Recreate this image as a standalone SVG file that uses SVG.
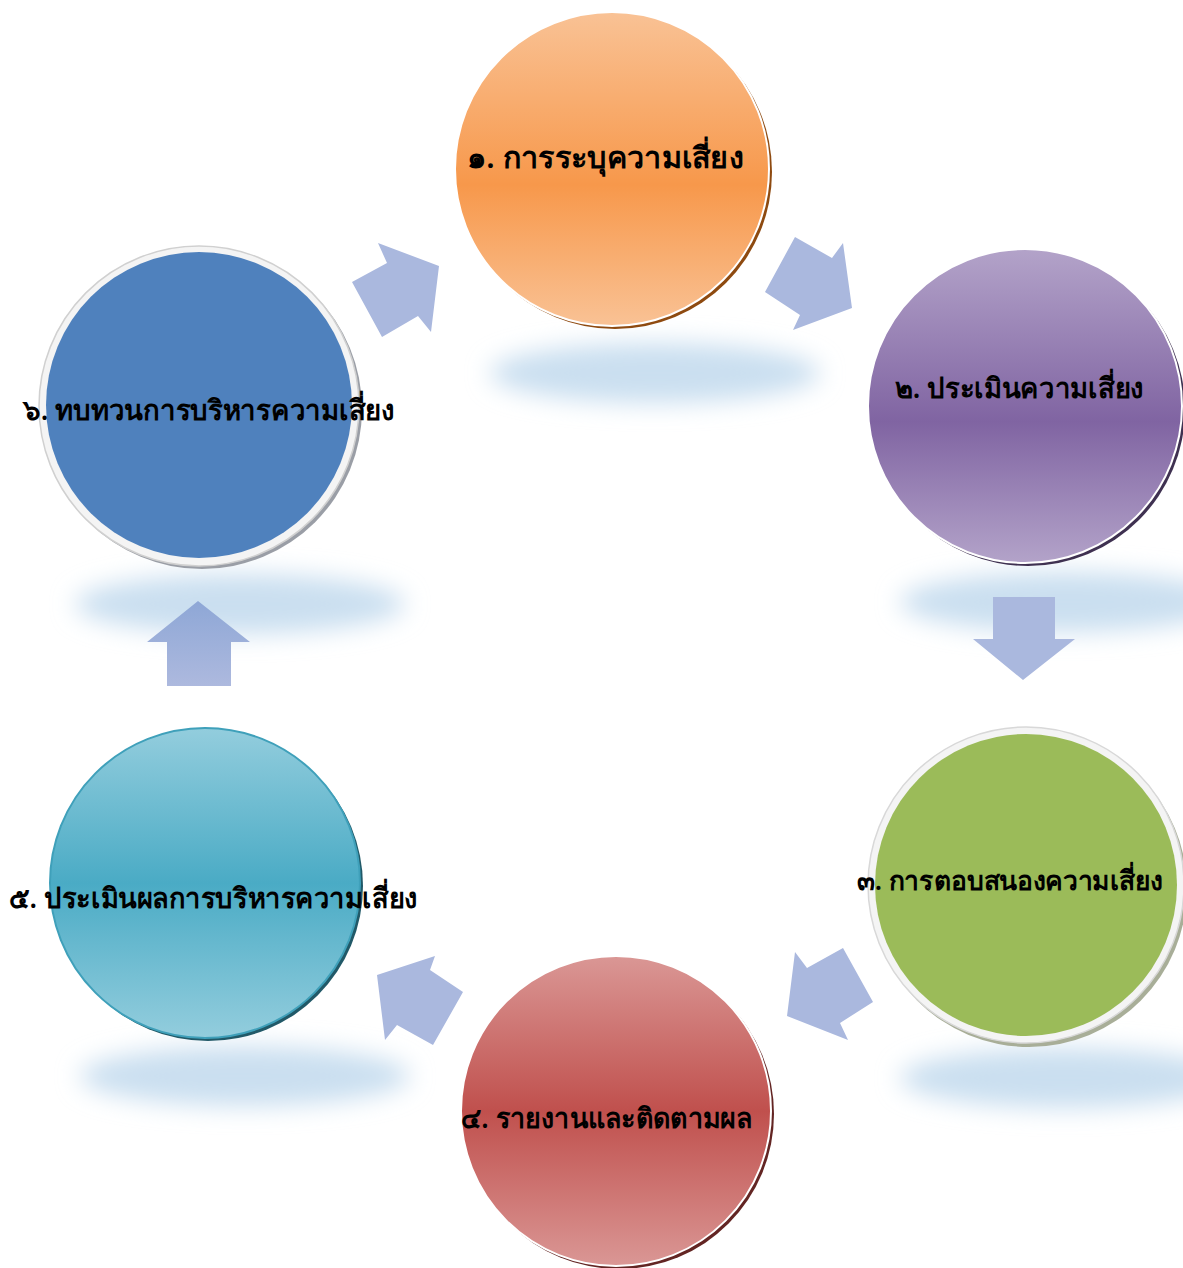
<svg xmlns="http://www.w3.org/2000/svg" width="1183" height="1268" viewBox="0 0 1183 1268">
<style>
.lbl{font-family:"Noto Sans","DejaVu Sans","Liberation Sans",sans-serif;font-size:28px;font-weight:600;fill:#000}
.arr{fill:#aab8de}
.shadow{fill:#cadff0;filter:url(#blur)}
</style>
<defs>
<filter id="blur" x="-30%" y="-100%" width="160%" height="300%"><feGaussianBlur stdDeviation="12"/></filter>
<linearGradient id="gOrange" x1="0" y1="0" x2="0" y2="1"><stop offset="0" stop-color="#f9c295"/><stop offset="0.55" stop-color="#f7984b"/><stop offset="1" stop-color="#f9c295"/></linearGradient>
<linearGradient id="gPurple" x1="0" y1="0" x2="0" y2="1"><stop offset="0" stop-color="#b3a3c9"/><stop offset="0.55" stop-color="#8064a2"/><stop offset="1" stop-color="#b3a3c9"/></linearGradient>
<linearGradient id="gRed" x1="0" y1="0" x2="0" y2="1"><stop offset="0" stop-color="#da9795"/><stop offset="0.5" stop-color="#c0504d"/><stop offset="1" stop-color="#da9795"/></linearGradient>
<linearGradient id="gTeal" x1="0" y1="0" x2="0" y2="1"><stop offset="0" stop-color="#93cddd"/><stop offset="0.5" stop-color="#4aabc5"/><stop offset="1" stop-color="#93cddd"/></linearGradient>
<linearGradient id="gUp" x1="0" y1="0" x2="0" y2="1"><stop offset="0" stop-color="#8ea7d6"/><stop offset="1" stop-color="#adb9de"/></linearGradient>
</defs>

<g id="shadows">
<ellipse class="shadow" cx="655" cy="373" rx="165" ry="30"/>
<ellipse class="shadow" cx="240" cy="604" rx="165" ry="30"/>
<ellipse class="shadow" cx="1065" cy="602" rx="165" ry="30"/>
<ellipse class="shadow" cx="1065" cy="1078" rx="165" ry="30"/>
<ellipse class="shadow" cx="245" cy="1076" rx="165" ry="30"/>
</g>

<g id="connectors">
<polygon class="arr" points="352,282 387,263 378,243 439,266 431,332 418,316 382,337"/>
<polygon class="arr" points="795,237 832,258 843,243 852,308 793,330 800,315 765,292"/>
<polygon class="arr" points="993,597 1055,597 1055,639 1075,639 1023,680 973,639 993,639"/>
<polygon class="arr" points="795,952 807,968 843,948 873,1002 840,1023 848,1040 787,1016"/>
<polygon class="arr" points="377,975 435,956 430,970 463,992 433,1045 397,1025 385,1040"/>
<polygon fill="url(#gUp)" points="198,601 250,642 231,642 231,686 167,686 167,642 147,642"/>
</g>

<g id="node1">
<circle cx="615" cy="172" r="157" fill="#8e4a10"/>
<circle cx="612" cy="169" r="157" fill="url(#gOrange)" stroke="#fff" stroke-width="2"/>
<text class="lbl" x="467" y="168" style="font-size:30px" textLength="277" lengthAdjust="spacingAndGlyphs">๑. การระบุความเสี่ยง</text>
</g>

<g id="node2">
<circle cx="1028" cy="409" r="157" fill="#3f3151"/>
<circle cx="1025" cy="406" r="157" fill="url(#gPurple)" stroke="#fff" stroke-width="2"/>
<text class="lbl" x="895" y="398" textLength="249" lengthAdjust="spacingAndGlyphs">๒. ประเมินความเสี่ยง</text>
</g>

<g id="node3">
<circle cx="1029" cy="889" r="158" fill="#a8ae98"/>
<circle cx="1026" cy="885" r="158" fill="#f4f4f4" stroke="#d8d8d8" stroke-width="1.5"/>
<circle cx="1026" cy="885" r="151" fill="#9bbb59"/>
<text class="lbl" x="857" y="890" style="font-size:27px" textLength="306" lengthAdjust="spacingAndGlyphs">๓. การตอบสนองความเสี่ยง</text>
</g>

<g id="node4">
<circle cx="619" cy="1114" r="155" fill="#632523"/>
<circle cx="616" cy="1111" r="155" fill="url(#gRed)" stroke="#fff" stroke-width="2"/>
<text class="lbl" x="461" y="1128" textLength="291" lengthAdjust="spacingAndGlyphs">๔. รายงานและติดตามผล</text>
</g>

<g id="node5">
<circle cx="208" cy="886" r="155" fill="#215968"/>
<circle cx="205" cy="883" r="155" fill="url(#gTeal)" stroke="#3fa0ba" stroke-width="2"/>
<text class="lbl" x="9" y="908" textLength="409" lengthAdjust="spacingAndGlyphs">๕. ประเมินผลการบริหารความเสี่ยง</text>
</g>

<g id="node6">
<circle cx="202" cy="409" r="160" fill="#9a9ea6"/>
<circle cx="199" cy="406" r="160" fill="#f4f4f4" stroke="#d0d0d0" stroke-width="1.5"/>
<circle cx="199" cy="405" r="153" fill="#4f81bd"/>
<text class="lbl" x="23" y="420" textLength="372" lengthAdjust="spacingAndGlyphs">๖. ทบทวนการบริหารความเสี่ยง</text>
</g>
</svg>
